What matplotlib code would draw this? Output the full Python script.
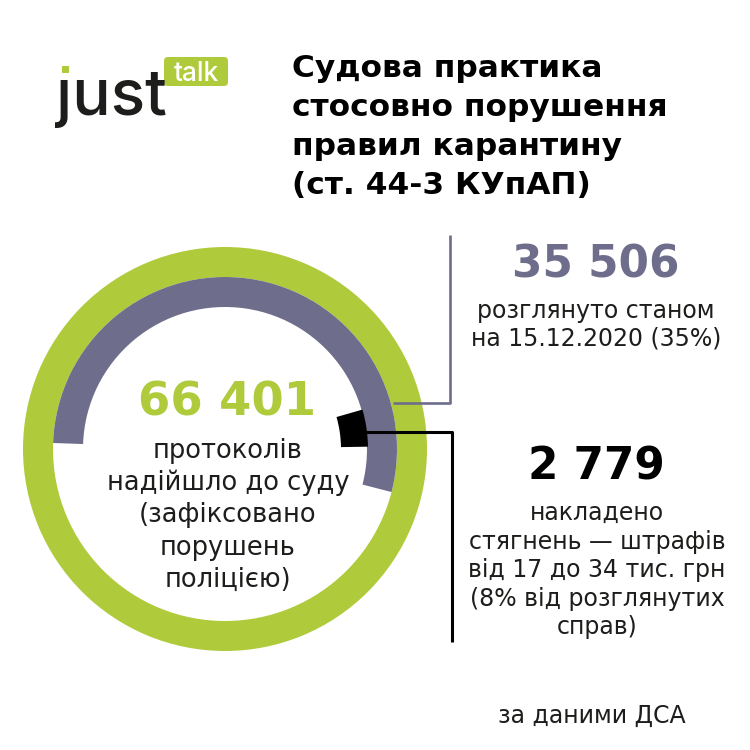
import matplotlib
matplotlib.use('Agg')
import matplotlib.pyplot as plt
from matplotlib.patches import FancyBboxPatch, Rectangle

# data
total = 66401       # протоколів надійшло до суду
reviewed = 35506    # розглянуто станом на 15.12.2020
penalties = 2779    # накладено стягнень

title_lines = ['Судова практика', 'стосовно порушення', 'правил карантину', '(ст. 44-3 КУпАП)']
center_lines = ['протоколів', 'надійшло до суду', '(зафіксовано', 'порушень', 'поліцією)']
reviewed_lines = ['розглянуто станом', 'на 15.12.2020 (35%)']
penalty_lines = ['накладено', 'стягнень — штрафів', 'від 17 до 34 тис. грн', '(8% від розглянутих', 'справ)']
source = 'за даними ДСА'

green = '#afca3b'
gray = '#6e6d8b'
ink = '#1d1d1b'

plt.rcParams['font.family'] = ['DejaVu Sans']

fig = plt.figure(figsize=(7.5, 7.5), dpi=100)
fig.patch.set_facecolor('white')

# ring (pixel geometry: center 225,449 ; outer radius 202)
R = 202.0
ring = fig.add_axes([23/750, 99/750, 404/750, 404/750])
ring.pie([total], colors=[green], radius=1.0,
         wedgeprops=dict(width=30/R, linewidth=0))
ring.pie([reviewed, total - reviewed], colors=[gray, 'none'], radius=172/R,
         startangle=178, counterclock=False,
         wedgeprops=dict(width=30/R, linewidth=0))
ring.pie([penalties, total - penalties], colors=['black', 'none'], radius=143/R,
         startangle=16, counterclock=False,
         wedgeprops=dict(width=27/R, linewidth=0))
ring.set_xlim(-1, 1)
ring.set_ylim(-1, 1)
ring.axis('off')

# overlay in pixel coordinates
ax = fig.add_axes([0, 0, 1, 1])
ax.set_xlim(0, 750)
ax.set_ylim(750, 0)
ax.axis('off')

# connectors
ax.plot([393, 450, 450], [403, 403, 235], color=gray, lw=1.9, solid_capstyle='butt')
ax.plot([365, 452, 452], [432, 432, 642], color='black', lw=2.2, solid_capstyle='butt')

# logo
ax.text(56, 115, 'ȷust', fontsize=46, color=ink, va='baseline', ha='left',
        family=['Inter', 'DejaVu Sans'], fontweight='medium')
ax.add_patch(Rectangle((62, 66), 7, 7, color=green, lw=0))
ax.add_patch(FancyBboxPatch((164, 57), 64, 29, boxstyle='round,pad=0,rounding_size=4',
                            color=green, lw=0))
ax.text(196, 81, 'talk', fontsize=19, color='white', va='baseline', ha='center',
        family=['Inter', 'DejaVu Sans'], fontweight='medium')

# title
for i, line in enumerate(title_lines):
    ax.text(292, 77 + i * 39, line, fontsize=22.5, fontweight='bold', color='black',
            va='baseline', ha='left')

# centre of the ring
ax.text(227, 415, f'{total:,}'.replace(',', ' '), fontsize=33.5, fontweight='bold',
        color=green, ha='center', va='baseline')
for i, line in enumerate(center_lines):
    ax.text(228, 458 + i * 32.2, line, fontsize=18.5, color=ink, ha='center', va='baseline')

# reviewed block
ax.text(596, 277, f'{reviewed:,}'.replace(',', ' '), fontsize=31.5, fontweight='bold',
        color=gray, ha='center', va='baseline')
for i, line in enumerate(reviewed_lines):
    ax.text(596, 318 + i * 27.5, line, fontsize=17, color=ink, ha='center', va='baseline')

# penalties block
ax.text(596, 479, f'{penalties:,}'.replace(',', ' '), fontsize=31.5, fontweight='bold',
        color='black', ha='center', va='baseline')
for i, line in enumerate(penalty_lines):
    ax.text(597, 520 + i * 28.6, line, fontsize=17, color=ink, ha='center', va='baseline')

ax.text(592, 723, source, fontsize=17, color=ink, ha='center', va='baseline')

fig.savefig('out.png', dpi=100, facecolor='white')
